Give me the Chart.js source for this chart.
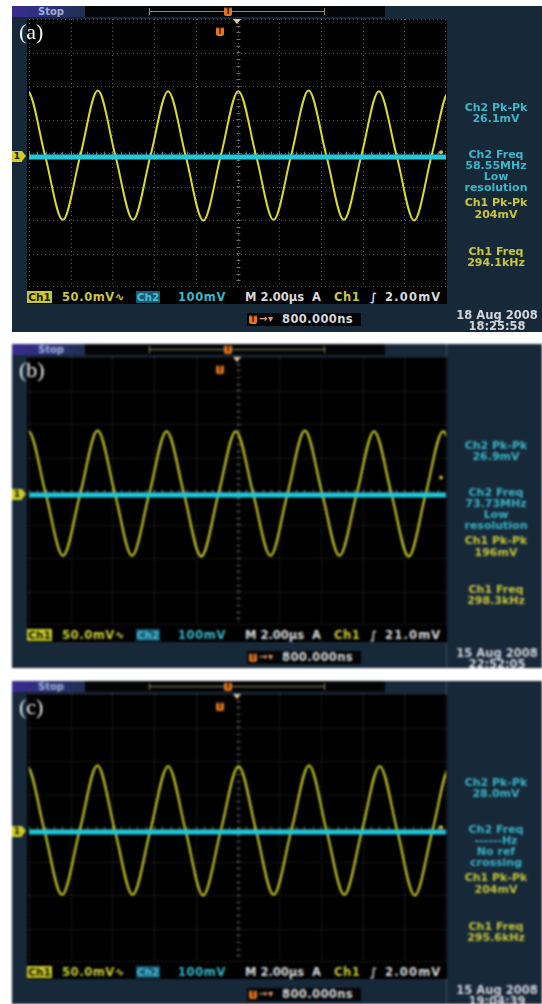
<!DOCTYPE html>
<html>
<head>
<meta charset="utf-8">
<script src="https://cdn.jsdelivr.net/npm/chart.js@4.4.1/dist/chart.umd.min.js"></script>
<style>
html,body{margin:0;padding:0;background:#fff;}
body{width:542px;height:1004px;position:relative;overflow:hidden;}
.panel{position:absolute;left:12px;width:530px;background:#172839;overflow:hidden;font-family:"DejaVu Sans",sans-serif;}
.abs{position:absolute;white-space:nowrap;}
.stopbox{left:0;top:0;width:73px;height:11px;background:linear-gradient(90deg,#3a2c8e,#2a2f74 55%,#1f3050);}
.stop{left:26px;top:0;font-weight:bold;font-size:10px;color:#9fb1d6;line-height:11px;}
.topbar{left:73px;top:0;width:300px;height:11px;background:#040507;}
.topline{left:137px;top:5px;width:176px;height:1px;background:#8a8a62;}
.tick{top:2px;width:1px;height:7px;background:#8a8a62;}
.screenbg{left:15px;top:13px;width:420px;height:285px;background:#000;}
.scr{left:17px;top:13px;width:417px;height:268px;}
.lbl{left:7px;top:13px;font-family:"Liberation Serif",serif;font-size:22px;color:#f2f2f2;line-height:26px;}
.side{left:433px;width:102px;text-align:center;font-weight:bold;font-size:11px;line-height:12px;}
.cy{color:#38b8c8;} .ye{color:#c8c83a;} .wh{color:#d6d9dd;}
.date{left:433px;width:104px;text-align:center;font-weight:bold;font-size:11.5px;line-height:12px;color:#d2d6dc;}
.st{top:285px;font-weight:bold;font-size:11.5px;line-height:12px;letter-spacing:0.6px;}
.box{top:285px;height:12px;font-weight:bold;font-size:10.5px;line-height:12px;text-align:center;}
.tmark{width:8px;height:9px;background:#e4771f;border-radius:2px;font-weight:bold;font-size:8px;color:#3a1800;text-align:center;line-height:9px;}
.arrow{width:0;height:0;border-left:4px solid transparent;border-right:4px solid transparent;border-top:5px solid #e9c9a0;}
.gnd{left:0;top:145px;width:10px;height:11px;background:#cccc2a;font-weight:bold;font-size:9px;color:#202000;text-align:center;line-height:11px;}
.gndtip{left:10px;top:145px;width:0;height:0;border-top:5.5px solid transparent;border-bottom:5.5px solid transparent;border-left:4px solid #cccc2a;}
.dbox{left:235px;top:307px;width:114px;height:13px;background:#030405;}
.vline{left:434px;top:0;width:0;border-left:1px dotted #6c7688;}
</style>
</head>
<body>
<script>
// ---------------- data ----------------
const panelLabels = ['(a)', '(b)', '(c)'];

// Ch1 (yellow) key points: time in µs, voltage in mV (peaks, zero crossings, troughs)
const ch1TimeA = [-10.91,-10.07,-9.23,-8.38,-7.54,-6.70,-5.86,-5.01,-4.17,-3.33,-2.49,-1.64,-0.80,0.04,0.89,1.73,2.57,3.41,4.26,5.10,5.94,6.78,7.63,8.47,9.31,10.15,10.99];
const ch1ValA  = [0,96,0,-96,0,97,0,-96,0,96,0,-97,0,96,0,-96,0,97,0,-96,0,96,0,-97,0,96,0];

const ch1TimeB = [-10.86,-10.03,-9.20,-8.37,-7.54,-6.71,-5.88,-5.06,-4.23,-3.40,-2.57,-1.74,-0.91,-0.08,0.75,1.58,2.40,3.23,4.06,4.89,5.72,6.55,7.38,8.21,9.03,9.86,10.69];
const ch1ValB  = [0,93,0,-93,0,94,0,-93,0,93,0,-94,0,93,0,-93,0,94,0,-93,0,93,0,-94,0,93,0];

const ch1TimeC = [-10.95,-10.10,-9.26,-8.42,-7.57,-6.72,-5.88,-5.03,-4.18,-3.33,-2.49,-1.65,-0.80,0.05,0.89,1.73,2.58,3.43,4.27,5.12,5.97,6.82,7.66,8.50,9.35,10.20,11.04];
const ch1ValC  = [0,96,0,-96,0,97,0,-96,0,96,0,-97,0,96,0,-96,0,97,0,-96,0,96,0,-97,0,96,0];

// Ch2 (cyan) trace: flat line near ground
const ch2TimeA = [-10, 10]; const ch2ValA = [0, 0];
const ch2TimeB = [-10, 10]; const ch2ValB = [0, 0];
const ch2TimeC = [-10, 10]; const ch2ValC = [0, 0];

// trigger
const trigTime  = [-0.8, -0.8, -0.8];        // µs (800.000ns delay)
const trigLevel = [2.0, 21.0, 2.0];          // mV
const trigLevelText = ['2.00mV', '21.0mV', '2.00mV'];

// graticule: 10 horizontal divisions of 2 µs, 8 vertical divisions
const timeGrid = [-10,-8,-6,-4,-2,0,2,4,6,8,10];
const divGrid  = [-4,-3,-2,-1,0,1,2,3,4];

// measurement read-outs
const ch2PkPk  = ['26.1mV', '26.9mV', '28.0mV'];
const ch2Freq  = [['58.55MHz','Low','resolution'], ['73.73MHz','Low','resolution'], ['------Hz','No ref','crossing']];
const ch1PkPk  = ['204mV', '196mV', '204mV'];
const ch1Freq  = ['294.1kHz', '298.3kHz', '295.6kHz'];
const dateText = ['18 Aug 2008', '15 Aug 2008', '15 Aug 2008'];
const timeText = ['18:25:58', '22:52:05', '19:04:39'];
const ch1Scale = '50.0mV', ch2Scale = '100mV', timeBase = 'M 2.00µs', delayText = '800.000ns';

// ---------------- layout ----------------
const panelTops = [6, 344, 681];
const panelHeights = [326, 324, 323];
const panelBlur = [0.3, 0.9, 0.9];
const ch1ZeroDiv = 0.075;   // ground marker slightly below screen centre (divisions)
const ch2ZeroDiv = 0.12;

const series = [
  {t1: ch1TimeA, v1: ch1ValA, t2: ch2TimeA, v2: ch2ValA},
  {t1: ch1TimeB, v1: ch1ValB, t2: ch2TimeB, v2: ch2ValB},
  {t1: ch1TimeC, v1: ch1ValC, t2: ch2TimeC, v2: ch2ValC}
];

const scopePlugin = {
  id: 'scope',
  beforeDraw(chart) {
    const ctx = chart.ctx;
    ctx.save(); ctx.fillStyle = '#000'; ctx.fillRect(0, 0, chart.width, chart.height); ctx.restore();
  },
  beforeDatasetsDraw(chart) {
    const ctx = chart.ctx, a = chart.chartArea, x = chart.scales.x, g = chart.scales.g;
    ctx.save();
    ctx.strokeStyle = 'rgba(115,115,115,0.75)';
    ctx.lineWidth = 1;
    ctx.setLineDash([1, 3]);
    timeGrid.forEach(t => {
      let px = Math.round(x.getPixelForValue(t)) + 0.5;
      px = Math.min(Math.max(px, a.left + 0.5), a.right - 0.5);
      ctx.beginPath(); ctx.moveTo(px, a.top); ctx.lineTo(px, a.bottom); ctx.stroke();
    });
    divGrid.forEach(d => {
      let py = Math.round(g.getPixelForValue(d)) + 0.5;
      py = Math.min(Math.max(py, a.top + 0.5), a.bottom - 0.5);
      ctx.beginPath(); ctx.moveTo(a.left, py); ctx.lineTo(a.right, py); ctx.stroke();
    });
    // minor ticks on the centre lines
    ctx.setLineDash([]);
    ctx.strokeStyle = 'rgba(135,135,135,0.8)';
    const cx = Math.round(x.getPixelForValue(0)) + 0.5, cy = Math.round(g.getPixelForValue(0)) + 0.5;
    for (let t = -10; t <= 10.001; t += 0.4) {
      const px = Math.round(x.getPixelForValue(t)) + 0.5;
      ctx.beginPath(); ctx.moveTo(px, cy - 2); ctx.lineTo(px, cy + 2); ctx.stroke();
    }
    for (let d = -4; d <= 4.001; d += 0.2) {
      const py = Math.round(g.getPixelForValue(d)) + 0.5;
      ctx.beginPath(); ctx.moveTo(cx - 2, py); ctx.lineTo(cx + 2, py); ctx.stroke();
    }
    ctx.restore();
  },
  afterDatasetsDraw(chart, args, opts) {
    const ctx = chart.ctx, a = chart.chartArea, y = chart.scales.y;
    const py = y.getPixelForValue(opts.level);
    ctx.save();
    ctx.fillStyle = '#e0b840';
    ctx.beginPath(); ctx.arc(a.right - 5, py - 2, 2, 0, Math.PI * 2); ctx.fill();
    ctx.restore();
  }
};

function el(parent, cls, text, style) {
  const d = document.createElement('div');
  d.className = 'abs ' + cls;
  if (text !== undefined && text !== null) d.textContent = text;
  if (style) Object.assign(d.style, style);
  parent.appendChild(d);
  return d;
}

for (let i = 0; i < 3; i++) {
  const p = document.createElement('div');
  p.className = 'panel';
  p.style.top = panelTops[i] + 'px';
  p.style.height = panelHeights[i] + 'px';
  p.style.filter = 'blur(' + panelBlur[i] + 'px)';
  document.body.appendChild(p);

  // top bar
  el(p, 'stopbox');
  el(p, 'stop', 'Stop');
  el(p, 'topbar');
  el(p, 'topline');
  el(p, 'tick', null, {left: '137px'});
  el(p, 'tick', null, {left: '312px'});
  el(p, 'tmark', 'T', {left: '212px', top: '1px'});
  if (i > 0) el(p, 'vline', null, {height: panelHeights[i] + 'px'});

  // screen
  el(p, 'screenbg');
  const wrap = el(p, 'scr');
  const cv = document.createElement('canvas');
  wrap.appendChild(cv);

  el(p, 'tmark', 'T', {left: '204px', top: '21px'});
  el(p, 'arrow', null, {left: '221px', top: '13px'});
  el(p, 'lbl', panelLabels[i]);
  el(p, 'gnd', '1');
  el(p, 'gndtip');

  // read-outs
  el(p, 'side cy', 'Ch2 Pk-Pk', {top: '96px'});
  el(p, 'side cy', ch2PkPk[i], {top: '107px'});
  el(p, 'side cy', 'Ch2 Freq', {top: '143px'});
  el(p, 'side cy', ch2Freq[i][0], {top: '154px'});
  el(p, 'side cy', ch2Freq[i][1], {top: '165px'});
  el(p, 'side cy', ch2Freq[i][2], {top: '176px'});
  el(p, 'side ye', 'Ch1 Pk-Pk', {top: '191px'});
  el(p, 'side ye', ch1PkPk[i], {top: '203px'});
  el(p, 'side ye', 'Ch1 Freq', {top: '240px'});
  el(p, 'side ye', ch1Freq[i], {top: '251px'});
  el(p, 'date', dateText[i], {top: '303px'});
  el(p, 'date', timeText[i], {top: '314px'});

  // status row
  el(p, 'box', 'Ch1', {left: '15px', width: '25px', background: '#c9c92a', color: '#1e1e00'});
  el(p, 'st ye', ch1Scale + '\u223F', {left: '50px'});
  el(p, 'box', 'Ch2', {left: '124px', width: '24px', background: '#1b5874', color: '#45c2d2'});
  el(p, 'st cy', ch2Scale, {left: '166px'});
  el(p, 'st wh', timeBase, {left: '233px', letterSpacing: '0px'});
  el(p, 'st wh', 'A', {left: '300px'});
  el(p, 'st ye', 'Ch1', {left: '322px'});
  el(p, 'st wh', '\u222B', {left: '358px'});
  el(p, 'st wh', trigLevelText[i], {left: '373px', letterSpacing: '1.2px'});

  // delay box
  el(p, 'dbox');
  el(p, 'tmark', 'T', {left: '237px', top: '309px'});
  el(p, 'st', '\u2192\u25BE', {left: '247px', top: '307px', color: '#e0a070', fontSize: '10px'});
  el(p, 'st wh', delayText, {left: '270px', top: '307px', letterSpacing: '0.4px'});

  const s = series[i];
  new Chart(cv, {
    type: 'line',
    data: {
      datasets: [
        {label: 'Ch2', data: s.t2.map((t, k) => ({x: t, y: s.v2[k]})), yAxisID: 'y2',
         borderColor: '#20c8da', borderWidth: 5, pointRadius: 0, tension: 0},
        {label: 'Ch1', data: s.t1.map((t, k) => ({x: t, y: s.v1[k]})), yAxisID: 'y',
         borderColor: '#dada2c', borderWidth: 2, pointRadius: 0, cubicInterpolationMode: 'monotone'}
      ]
    },
    options: {
      responsive: true, maintainAspectRatio: false, animation: false, events: [],
      layout: {padding: 0},
      plugins: {legend: {display: false}, tooltip: {enabled: false}, scope: {level: trigLevel[i]}},
      scales: {
        x:  {type: 'linear', min: -10, max: 10, display: false},
        g:  {type: 'linear', axis: 'y', min: -4, max: 4, display: false},
        y:  {type: 'linear', min: -200 + ch1ZeroDiv * 50, max: 200 + ch1ZeroDiv * 50, display: false},
        y2: {type: 'linear', axis: 'y', min: -400 + ch2ZeroDiv * 100, max: 400 + ch2ZeroDiv * 100, display: false}
      }
    },
    plugins: [scopePlugin]
  });
}
</script>
</body>
</html>
